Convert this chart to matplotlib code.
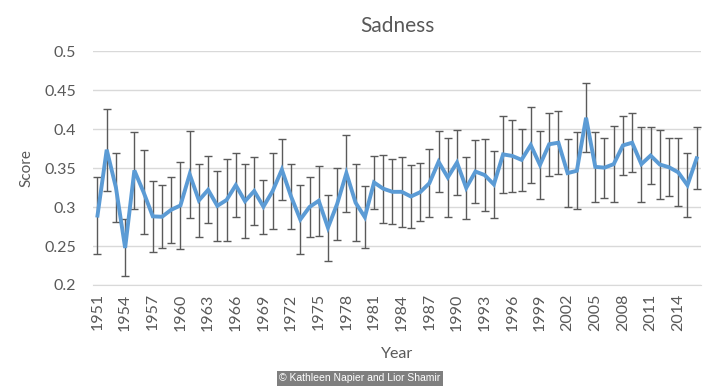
import numpy as np
import matplotlib
matplotlib.use('Agg')
import matplotlib.pyplot as plt
from matplotlib import rc
rc('font', **{'family': 'sans-serif', 'sans-serif': ['Lato', 'DejaVu Sans']})

years = list(range(1951, 2017))
# top / bottom of each error bar
err_top = [0.338, 0.426, 0.369, 0.284, 0.396, 0.373, 0.334, 0.328, 0.339, 0.358,
           0.398, 0.355, 0.365, 0.346, 0.361, 0.369, 0.355, 0.364, 0.335, 0.369,
           0.387, 0.355, 0.328, 0.338, 0.353, 0.316, 0.350, 0.393, 0.355, 0.327,
           0.366, 0.367, 0.361, 0.364, 0.354, 0.356, 0.374, 0.397, 0.389, 0.399,
           0.364, 0.386, 0.387, 0.372, 0.417, 0.412, 0.400, 0.428, 0.398, 0.421,
           0.423, 0.387, 0.396, 0.459, 0.396, 0.389, 0.404, 0.417, 0.420, 0.403,
           0.403, 0.399, 0.388, 0.388, 0.369, 0.402]
err_bot = [0.240, 0.321, 0.281, 0.211, 0.298, 0.265, 0.242, 0.247, 0.254, 0.246,
           0.286, 0.262, 0.279, 0.257, 0.257, 0.287, 0.260, 0.277, 0.266, 0.272,
           0.309, 0.272, 0.240, 0.262, 0.263, 0.231, 0.258, 0.294, 0.256, 0.247,
           0.297, 0.280, 0.278, 0.275, 0.273, 0.282, 0.287, 0.319, 0.287, 0.315,
           0.285, 0.305, 0.295, 0.286, 0.318, 0.319, 0.321, 0.331, 0.310, 0.340,
           0.342, 0.300, 0.297, 0.370, 0.307, 0.312, 0.306, 0.341, 0.345, 0.307,
           0.329, 0.310, 0.314, 0.301, 0.287, 0.323]

top = np.array(err_top)
bot = np.array(err_bot)
score = (top + bot) / 2
err = (top - bot) / 2

fig = plt.figure(figsize=(7.2, 3.87), dpi=100)
ax = fig.add_axes([0.129, 0.2636, 0.845, 0.6044])

x = np.arange(len(years))
ax.errorbar(x, score, yerr=err, fmt='none', ecolor='#5a5a5a', elinewidth=1.0,
            capsize=3, capthick=1.0, zorder=2)
ax.plot(x, score, color='#5B9BD5', lw=2.8, solid_joinstyle='miter', zorder=3)

ax.set_xlim(-0.5, len(years) - 0.5)
ax.set_ylim(0.2, 0.5)
ax.set_yticks(np.arange(0.2, 0.501, 0.05))
ax.set_yticklabels(['0.2', '0.25', '0.3', '0.35', '0.4', '0.45', '0.5'])
ax.yaxis.grid(True, color='#d9d9d9', lw=1)
ax.set_axisbelow(True)
ax.set_xticks(x[::3])
ax.set_xticklabels([str(y) for y in years[::3]], rotation=90)
for s in ['top', 'right', 'left']:
    ax.spines[s].set_visible(False)
ax.spines['bottom'].set_color('#d9d9d9')
ax.tick_params(axis='both', length=0, labelsize=11.5, colors='#595959')
ax.tick_params(axis='y', pad=12)
ax.tick_params(axis='x', pad=6)

ax.set_ylabel('Score', fontsize=11, color='#595959', labelpad=8)
ax.set_xlabel('Year', fontsize=11.5, color='#595959', labelpad=12)
ax.set_title('Sadness', fontsize=15, color='#595959', pad=14)

fig.text(0.5, 0.022, '\u00a9 Kathleen Napier and Lior Shamir', ha='center', va='center',
         fontsize=7.5, color='white', family='Liberation Sans',
         bbox=dict(boxstyle='square,pad=0.25', fc='#7f7f7f', ec='none'))

fig.savefig('out.png', dpi=100)
